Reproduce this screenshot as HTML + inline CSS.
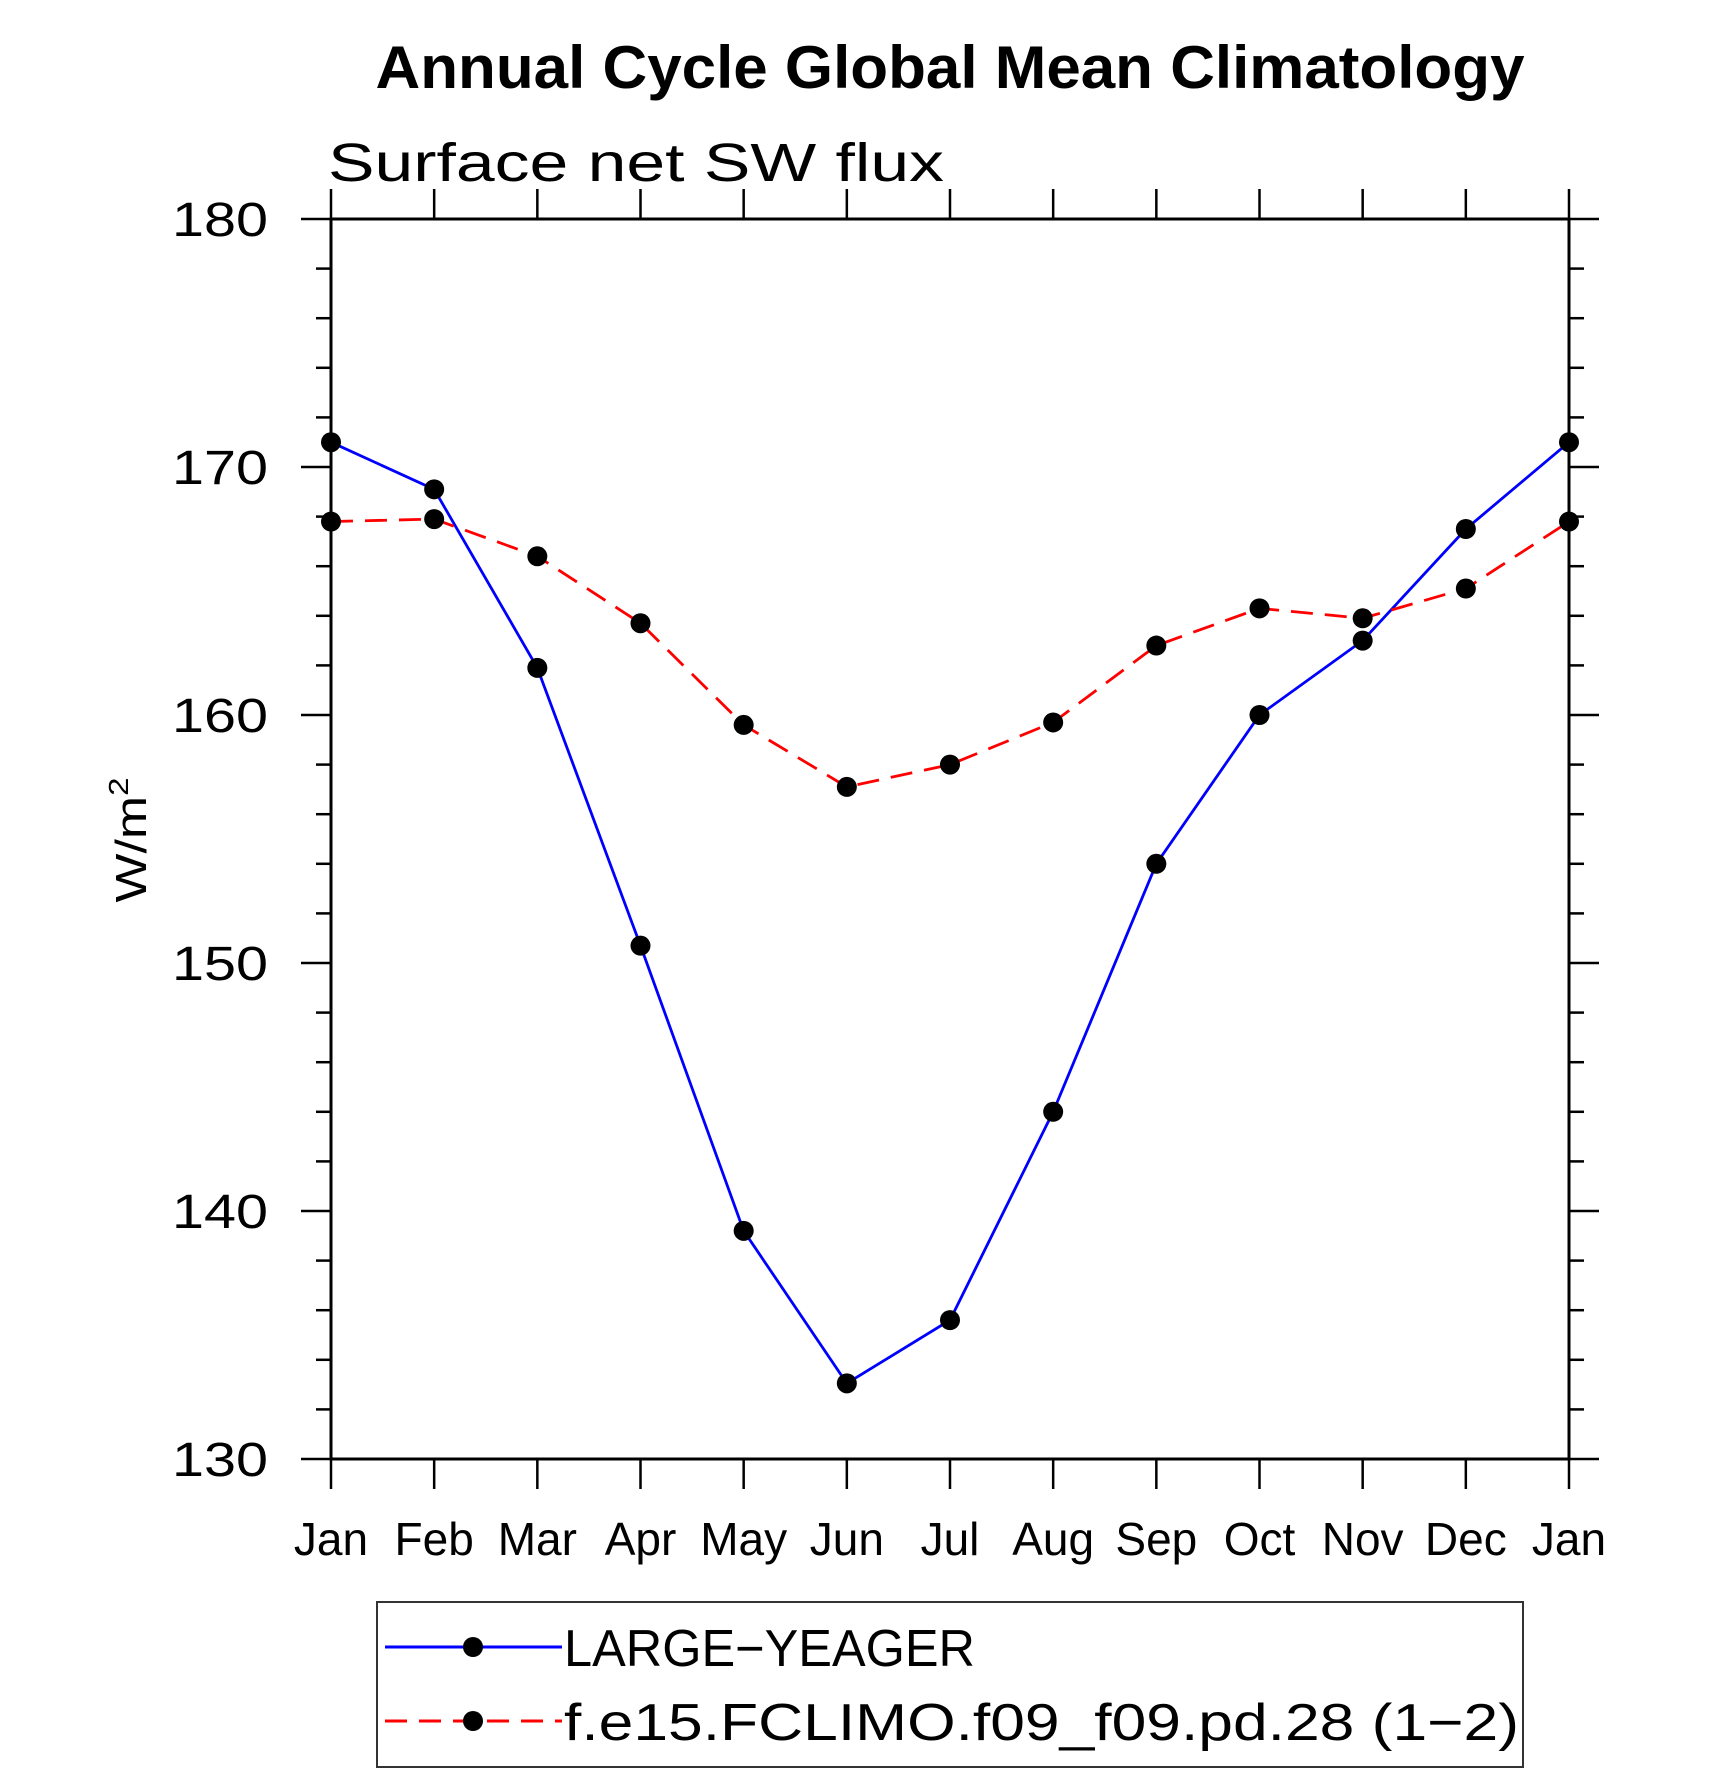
<!DOCTYPE html>
<html><head><meta charset="utf-8"><style>
html,body{margin:0;padding:0;background:#fff;}
svg{display:block;}
text{font-family:"Liberation Sans",sans-serif;}
</style></head><body>
<svg id="chart" width="1710" height="1773" viewBox="0 0 1710 1773" xmlns="http://www.w3.org/2000/svg">
<text x="950" y="88" text-anchor="middle" font-size="60" font-weight="bold" textLength="1149" lengthAdjust="spacingAndGlyphs">Annual Cycle Global Mean Climatology</text>
<text x="328" y="181" font-size="54" font-weight="300" textLength="616" lengthAdjust="spacingAndGlyphs">Surface net SW flux</text>
<text transform="translate(146,840) rotate(-90)" text-anchor="middle" font-size="44" textLength="125" lengthAdjust="spacingAndGlyphs">W/m<tspan font-size="28" dy="-18">2</tspan></text>
<g id="axes"></g>
<g id="series"></g>
<g>
<rect x="377" y="1602" width="1146" height="165" fill="none" stroke="#333" stroke-width="2"/>
<g>
<line x1="385" y1="1647" x2="562" y2="1647" stroke="#0000ff" stroke-width="3"/>
<circle cx="473" cy="1647" r="10" fill="#000"/>
<text x="564" y="1666" font-size="52" textLength="411" lengthAdjust="spacingAndGlyphs">LARGE−YEAGER</text>
</g>
<g>
<line x1="385" y1="1721" x2="562" y2="1721" stroke="#ff0000" stroke-width="3" stroke-dasharray="22 12"/>
<circle cx="473" cy="1721" r="10" fill="#000"/>
<text x="564" y="1740" font-size="52" textLength="955" lengthAdjust="spacingAndGlyphs">f.e15.FCLIMO.f09_f09.pd.28 (1−2)</text>
</g>
</g>
</svg>
<script>
const months = ["Jan","Feb","Mar","Apr","May","Jun","Jul","Aug","Sep","Oct","Nov","Dec","Jan"];
const largeYeager = [171.0,169.1,161.9,150.7,139.2,133.05,135.6,144.0,154.0,160.0,163.0,167.5,171.0];
const fclimo = [167.8,167.9,166.4,163.7,159.6,157.1,158.0,159.7,162.8,164.3,163.9,165.1,167.8];
const yTicks = [130,140,150,160,170,180];
const yMin = 130, yMax = 180;

const L=331,R=1569,T=219,B=1459;
const NS="http://www.w3.org/2000/svg";
function x(i){return L+(R-L)*i/(months.length-1);}
function y(v){return B-(v-yMin)/(yMax-yMin)*(B-T);}
function mk(tag,attrs,parent){const e=document.createElementNS(NS,tag);for(const k in attrs)e.setAttribute(k,attrs[k]);parent.appendChild(e);return e;}
const axes=document.getElementById('axes');
const series=document.getElementById('series');

const frame=mk('rect',{x:L,y:T,width:R-L,height:B-T,fill:'none',stroke:'#000','stroke-width':3},axes);



for(let v=yMin; v<=yMax+0.001; v+=2){
  const major=(Math.abs(v%10)<0.001);
  const len=major?30:15;
  const yy=y(v);
  const t1=mk('line',{x1:L-len,y1:yy,x2:L,y2:yy,stroke:'#000','stroke-width':2.5},axes);
  
  
  const t2=mk('line',{x1:R,y1:yy,x2:R+len,y2:yy,stroke:'#000','stroke-width':2.5},axes);
  
  
}
yTicks.forEach(v=>{
  const t=mk('text',{x:268,y:y(v)+17,'text-anchor':'end','font-size':48,'textLength':96,'lengthAdjust':'spacingAndGlyphs'},axes);
  t.textContent=v;
  
  
});
months.forEach((m,i)=>{
  const xx=x(i);
  const b=mk('line',{x1:xx,y1:B,x2:xx,y2:B+30,stroke:'#000','stroke-width':2.5},axes);
  
  
  const t=mk('line',{x1:xx,y1:T-30,x2:xx,y2:T,stroke:'#000','stroke-width':2.5},axes);
  
  
  const lb=mk('text',{x:xx,y:1555,'text-anchor':'middle','font-size':46},axes);
  lb.textContent=m;
  
  
});

function drawSeries(vals,color,dash,name){
  const pts=vals.map((v,i)=>x(i)+','+y(v)).join(' ');
  const pl=mk('polyline',{points:pts,fill:'none',stroke:color,'stroke-width':2.8},series);
  if(dash)pl.setAttribute('stroke-dasharray',dash);
  
  
  vals.forEach((v,i)=>{
    const c=mk('circle',{cx:x(i),cy:y(v),r:10,fill:'#000'},series);
    
    
  });
}
drawSeries(largeYeager,'#0000ff',null,'large-yeager');
drawSeries(fclimo,'#ff0000','22 12','fclimo');
</script>
</body></html>
